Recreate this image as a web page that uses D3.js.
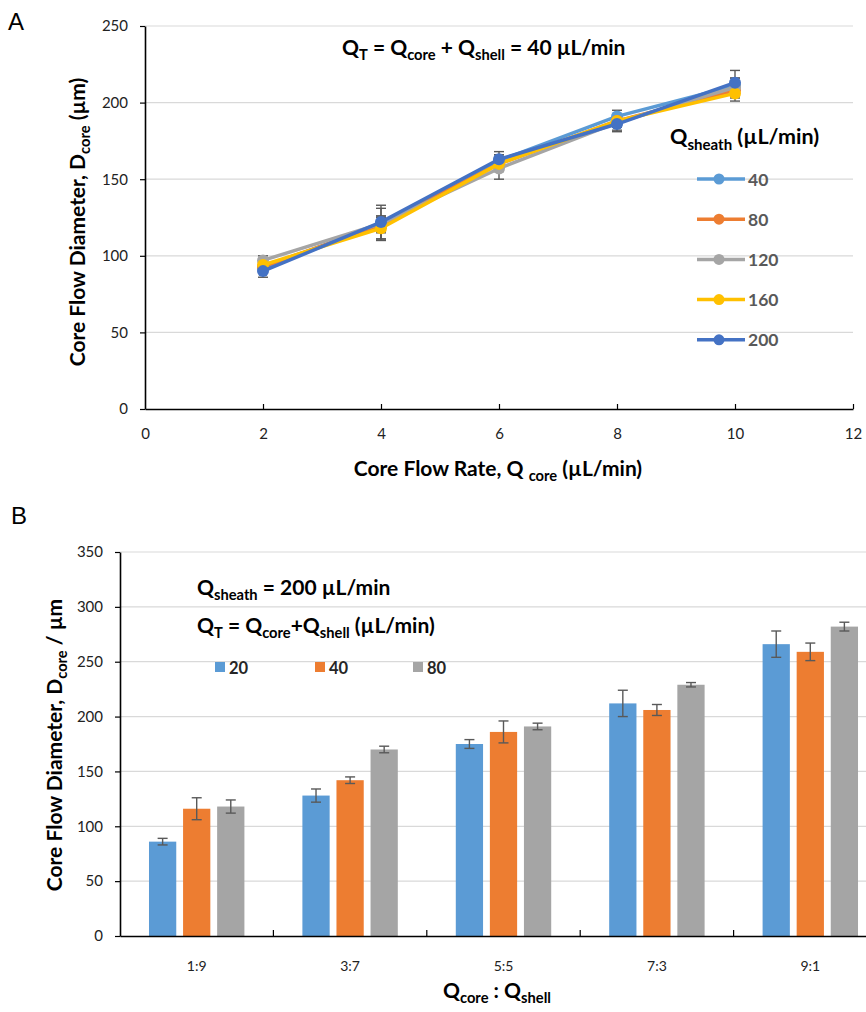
<!DOCTYPE html>
<html>
<head>
<meta charset="utf-8">
<script src="https://cdn.jsdelivr.net/npm/d3@7"></script>
<style>
  body { margin: 0; background: #fff; }
  svg { font-family: Lato, "Open Sans", sans-serif; display: block; }
</style>
</head>
<body>
<div id="chart"></div>
<script>
// ---- panel A data: core flow diameter vs core flow rate
const flowRates = [2, 4, 6, 8, 10];
const sheathLabels = ["40", "80", "120", "160", "200"];
const sheath40 = [92, 121, 162, 191, 211];
const sheath80 = [93, 120, 160, 188, 208];
const sheath120 = [97, 121, 157, 187, 210];
const sheath160 = [94, 118, 160, 188, 206];
const sheath200 = [90, 122, 163, 186, 213];
const err40 = [3, 5, 4, 4, 5];
const err80 = [3, 5, 4, 4, 5];
const err120 = [3, 10, 7, 5, 6];
const err160 = [3, 8, 5, 4, 5];
const err200 = [4, 11, 5, 5, 8];
const xTicksA = [0, 2, 4, 6, 8, 10, 12];
const yTicksA = [0, 50, 100, 150, 200, 250];

// ---- panel B data: core diameter vs flow ratio
const ratios = ["1:9", "3:7", "5:5", "7:3", "9:1"];
const totalLabels = ["20", "40", "80"];
const total20 = [86, 128, 175, 212, 266];
const total40 = [116, 142, 186, 206, 259];
const total80 = [118, 170, 191, 229, 282];
const errT20 = [3, 6, 4, 12, 12];
const errT40 = [10, 3, 10, 5, 8];
const errT80 = [6, 3, 3, 2, 4];
const yTicksB = [0, 50, 100, 150, 200, 250, 300, 350];

const colorsA = ["#5B9BD5", "#ED7D31", "#A5A5A5", "#FFC000", "#4472C4"];
const colorsB = ["#5B9BD5", "#ED7D31", "#A5A5A5"];
const gridColor = "#D9D9D9";
const errColor = "#595959";

var width = 866, height = 1012;
var titleSize = 21;

var svg = d3.select("#chart").append("svg")
    .attr("width", width)
    .attr("height", height);

svg.append("rect").attr("width", width).attr("height", height).attr("fill", "#fff");

// writes text made of [string, "sub"|null] parts
function richText(g, x, y, parts, size, opts) {
    opts = opts || {};
    let t = g.append("text")
        .attr("x", x).attr("y", y)
        .attr("font-size", size)
        .attr("font-weight", opts.weight || "bold")
        .attr("fill", opts.fill || "#000")
        .attr("text-anchor", opts.anchor || "start");
    if (opts.transform) t.attr("transform", opts.transform);
    let shifted = false;
    parts.forEach(function (p) {
        let ts = t.append("tspan").text(p[0]);
        if (p[1] === "sub" && !shifted) {
            ts.attr("dy", size * 0.26).attr("font-size", size * 0.7);
            shifted = true;
        } else if (p[1] === "sub") {
            ts.attr("font-size", size * 0.7);
        } else if (shifted) {
            ts.attr("dy", -size * 0.26);
            shifted = false;
        }
    });
    return t;
}

// ================= Panel A =================
var xA = d3.scaleLinear().domain([0, 12]).range([145, 853]);
var yA = d3.scaleLinear().domain([0, 250]).range([409, 26]);

svg.append("text").attr("x", 8).attr("y", 30).attr("font-size", 24)
    .attr("font-family", "Liberation Sans, Arial, sans-serif").text("A");

// gridlines
svg.append("g").selectAll("line")
    .data(yTicksA.filter(d => d > 0))
    .join("line")
    .attr("x1", xA(0)).attr("x2", xA(12))
    .attr("y1", d => yA(d)).attr("y2", d => yA(d))
    .attr("stroke", gridColor).attr("stroke-width", 1.2);

var yAxisA = svg.append("g")
    .attr("transform", "translate(" + xA(0) + ",0)")
    .call(d3.axisLeft(yA).tickValues(yTicksA).tickSize(5).tickSizeOuter(0).tickPadding(12));

var xAxisA = svg.append("g")
    .attr("transform", "translate(0," + yA(0) + ")")
    .call(d3.axisBottom(xA).tickValues(xTicksA).tickSize(-5).tickSizeOuter(0).tickPadding(19));

[yAxisA, xAxisA].forEach(function (ax) {
    ax.select(".domain").attr("stroke", "#000").attr("stroke-width", 1.6);
    ax.selectAll(".tick line").attr("stroke", "#000").attr("stroke-width", 1.2);
    ax.selectAll(".tick text").attr("font-size", 15).attr("fill", "#222")
        .attr("font-family", "Lato, sans-serif");
});
xAxisA.selectAll(".tick").filter(d => d === 0).select("line").remove();

// series
var seriesA = [sheath40, sheath80, sheath120, sheath160, sheath200];
var errA = [err40, err80, err120, err160, err200];

var line = d3.line()
    .x(function (d, i) { return xA(flowRates[i]); })
    .y(function (d) { return yA(d); });

// error bars under lines
seriesA.forEach(function (s, k) {
    let g = svg.append("g");
    s.forEach(function (v, i) {
        let x = xA(flowRates[i]);
        let e = errA[k][i];
        g.append("line").attr("x1", x).attr("x2", x)
            .attr("y1", yA(v - e)).attr("y2", yA(v + e))
            .attr("stroke", errColor).attr("stroke-width", 1.4);
        [v - e, v + e].forEach(function (w) {
            g.append("line").attr("x1", x - 5).attr("x2", x + 5)
                .attr("y1", yA(w)).attr("y2", yA(w))
                .attr("stroke", errColor).attr("stroke-width", 1.4);
        });
    });
});

seriesA.forEach(function (s, k) {
    svg.append("path")
        .datum(s)
        .attr("d", line)
        .attr("fill", "none")
        .attr("stroke", colorsA[k])
        .attr("stroke-width", 3.5)
        .attr("stroke-linejoin", "round");
    svg.append("g").selectAll("circle")
        .data(s)
        .join("circle")
        .attr("cx", (d, i) => xA(flowRates[i]))
        .attr("cy", d => yA(d))
        .attr("r", 6)
        .attr("fill", colorsA[k]);
});

// title A
richText(svg, 342, 55, [["Q", null], ["T", "sub"], [" = Q", null], ["core", "sub"], [" + Q", null], ["shell", "sub"], [" = 40 \u00B5L/min", null]], titleSize);

// legend A
richText(svg, 670, 144, [["Q", null], ["sheath", "sub"], [" (\u00B5L/min)", null]], 21.5);
var legA = svg.append("g");
sheathLabels.forEach(function (lab, k) {
    let y = 179 + k * 40.2;
    legA.append("line").attr("x1", 697).attr("x2", 745).attr("y1", y).attr("y2", y)
        .attr("stroke", colorsA[k]).attr("stroke-width", 3.5);
    legA.append("circle").attr("cx", 719).attr("cy", y).attr("r", 5.5).attr("fill", colorsA[k]);
    legA.append("text").attr("x", 748).attr("y", y + 6.5).attr("font-size", 17.5)
        .attr("font-weight", "bold").attr("fill", "#595959").text(lab);
});

// axis titles A
richText(svg, 498, 476, [["Core Flow Rate, Q ", null], ["core", "sub"], [" (\u00B5L/min)", null]], titleSize, { anchor: "middle" });
richText(svg, 0, 0, [["Core Flow Diameter, D", null], ["core", "sub"], [" (\u00B5m)", null]], titleSize,
    { anchor: "middle", transform: "translate(85,222) rotate(-90)" });

// ================= Panel B =================
var x0 = d3.scaleBand().domain(ratios).range([120, 887]).paddingInner(0.378).paddingOuter(0.189);
var x1 = d3.scaleBand().domain(totalLabels).range([0, x0.bandwidth()]).paddingInner(0.2);
var yB = d3.scaleLinear().domain([0, 350]).range([936, 552]);

svg.append("text").attr("x", 11).attr("y", 524).attr("font-size", 24)
    .attr("font-family", "Liberation Sans, Arial, sans-serif").text("B");

svg.append("g").selectAll("line")
    .data(yTicksB.filter(d => d > 0))
    .join("line")
    .attr("x1", 120).attr("x2", width)
    .attr("y1", d => yB(d)).attr("y2", d => yB(d))
    .attr("stroke", gridColor).attr("stroke-width", 1.2);

var seriesB = [total20, total40, total80];
var errB = [errT20, errT40, errT80];

seriesB.forEach(function (s, k) {
    let g = svg.append("g");
    g.selectAll("rect")
        .data(s)
        .join("rect")
        .attr("x", (d, i) => x0(ratios[i]) + x1(totalLabels[k]))
        .attr("y", d => yB(d))
        .attr("width", x1.bandwidth())
        .attr("height", d => yB(0) - yB(d))
        .attr("fill", colorsB[k]);
    s.forEach(function (v, i) {
        let x = x0(ratios[i]) + x1(totalLabels[k]) + x1.bandwidth() / 2;
        let e = errB[k][i];
        g.append("line").attr("x1", x).attr("x2", x)
            .attr("y1", yB(v - e)).attr("y2", yB(v + e))
            .attr("stroke", errColor).attr("stroke-width", 1.4);
        [v - e, v + e].forEach(function (w) {
            g.append("line").attr("x1", x - 5).attr("x2", x + 5)
                .attr("y1", yB(w)).attr("y2", yB(w))
                .attr("stroke", errColor).attr("stroke-width", 1.4);
        });
    });
});

var yAxisB = svg.append("g")
    .attr("transform", "translate(120,0)")
    .call(d3.axisLeft(yB).tickValues(yTicksB).tickSize(5).tickSizeOuter(0).tickPadding(12));

var xAxisB = svg.append("g")
    .attr("transform", "translate(0," + yB(0) + ")")
    .call(d3.axisBottom(x0).tickSize(0).tickSizeOuter(0).tickPadding(25));

[yAxisB, xAxisB].forEach(function (ax) {
    ax.select(".domain").attr("stroke", "#000").attr("stroke-width", 1.6);
    ax.selectAll(".tick line").attr("stroke", "#000").attr("stroke-width", 1.2);
    ax.selectAll(".tick text").attr("font-size", 15).attr("fill", "#222")
        .attr("font-family", "Lato, sans-serif");
});
xAxisB.selectAll(".tick text").attr("font-size", 14);
// category boundary ticks
xAxisB.selectAll(".bound")
    .data(d3.range(1, ratios.length))
    .join("line")
    .attr("x1", i => x0.range()[0] + i * x0.step())
    .attr("x2", i => x0.range()[0] + i * x0.step())
    .attr("y1", 0).attr("y2", -6)
    .attr("stroke", "#000").attr("stroke-width", 1.2);

richText(svg, 197, 595, [["Q", null], ["sheath", "sub"], [" = 200 \u00B5L/min", null]], titleSize);
richText(svg, 197, 633, [["Q", null], ["T", "sub"], [" = Q", null], ["core", "sub"], ["+Q", null], ["shell", "sub"], [" (\u00B5L/min)", null]], titleSize);

var legB = svg.append("g");
var legBx = [215, 315, 413];
totalLabels.forEach(function (lab, k) {
    legB.append("rect").attr("x", legBx[k]).attr("y", 662).attr("width", 10).attr("height", 10)
        .attr("fill", colorsB[k]);
    legB.append("text").attr("x", legBx[k] + 14).attr("y", 674).attr("font-size", 16.5)
        .attr("font-weight", "bold").attr("fill", "#262626").text(lab);
});

richText(svg, 497, 998, [["Q", null], ["core", "sub"], [" : Q", null], ["shell", "sub"]], titleSize, { anchor: "middle" });
richText(svg, 0, 0, [["Core Flow Diameter, D", null], ["core", "sub"], [" / \u00B5m", null]], titleSize,
    { anchor: "middle", transform: "translate(62,745) rotate(-90)" });
</script>
</body>
</html>
